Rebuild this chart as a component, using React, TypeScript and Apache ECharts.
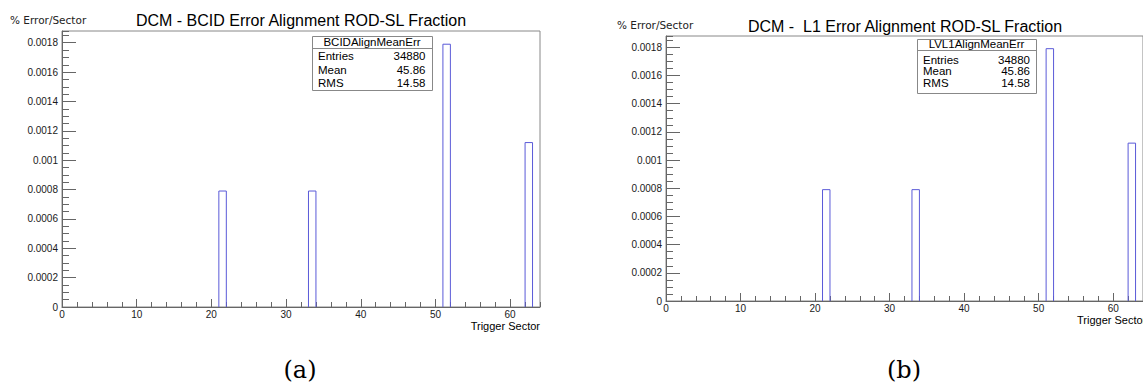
import React, { useEffect, useRef } from "react";
import * as echarts from "echarts";

// ---- data ----
const binLow = [21, 33, 51, 62];
const binWidth = 1;
const fractionBCID = [0.00079, 0.00079, 0.00179, 0.00112];
const fractionL1 = [0.00079, 0.00079, 0.00179, 0.00112];
const xMin = 0;
const xMax = 64;
const yMin = 0;
const yMax = 0.00188;
const xMajor = 10;
const xMinor = 2;
const yMajor = 0.0002;
const yMinor = 0.00005;
const titles = ["DCM - BCID Error Alignment ROD-SL Fraction", "DCM -  L1 Error Alignment ROD-SL Fraction"];
const yTitle = "% Error/Sector";
const xTitle = "Trigger Sector";
const statNames = ["BCIDAlignMeanErr", "LVL1AlignMeanErr"];
const statLabels = ["Entries", "Mean", "RMS"];
const statValuesBCID = ["34880", "45.86", "14.58"];
const statValuesL1 = ["34880", "45.86", "14.58"];
const captions = ["(a)", "(b)"];

// ---- layout ----
const panels = [
  {
    values: fractionBCID,
    stats: statValuesBCID,
    grid: { left: 62, top: 31, width: 478, height: 276 },
    titleX: 301, titleY: 20,
    yNameX: 10, yNameY: 20,
    box: { x: 312, y: 36, w: 120, h: 54, sep: 48, headY: 41.5, rows: [55.8, 69.5, 83], lx: 318, rx: 425.5 },
    xNameX: 540, xNameY: 325.5,
    capX: 300, capY: 370,
  },
  {
    values: fractionL1,
    stats: statValuesL1,
    grid: { left: 666, top: 36, width: 480, height: 265 },
    titleX: 905, titleY: 26,
    yNameX: 617, yNameY: 25,
    box: { x: 917, y: 39, w: 119, h: 54, sep: 50, headY: 44, rows: [60, 71.3, 82.8], lx: 923, rx: 1030 },
    xNameX: 1077, xNameY: 320,
    capX: 904, capY: 370,
  },
];

const SANS = '"Liberation Sans", Arial, Helvetica, sans-serif';
const BAR = "#5a5ad8";
const AXIS = "#666";
const FRAME = "#888";
const LABEL = "#1a1a1a";

function yFmt(v: number): string {
  const k = Math.round(v / yMajor);
  if (Math.abs(v - k * yMajor) > 1e-9) return "";
  if (k === 0) return "0";
  return (k * yMajor).toFixed(4).replace(/0+$/, "");
}
function xFmt(v: number): string {
  const k = Math.round(v / xMajor);
  if (Math.abs(v - k * xMajor) > 1e-9) return "";
  return String(k * xMajor);
}

export default function App() {
  const ref = useRef<HTMLDivElement>(null);
  useEffect(() => {
    if (!ref.current) return;
    const chart = echarts.init(ref.current, undefined, { renderer: "svg" });

    const grids: any[] = [];
    const xAxes: any[] = [];
    const yAxes: any[] = [];
    const series: any[] = [];
    const graphics: any[] = [];

    panels.forEach((p, i) => {
      grids.push({ ...p.grid, show: true, borderColor: FRAME, borderWidth: 1, backgroundColor: "transparent" });
      xAxes.push({
        gridIndex: i, type: "value", min: xMin, max: xMax, interval: xMajor, position: "bottom",
        axisLine: { show: true, onZero: false, lineStyle: { color: AXIS, width: 1 } },
        axisTick: { show: true, inside: true, length: 8, lineStyle: { color: AXIS } },
        axisLabel: { show: true, formatter: xFmt, fontSize: 10, color: LABEL, margin: 2, fontFamily: SANS, showMaxLabel: false },
        splitLine: { show: false },
      });
      xAxes.push({
        gridIndex: i, type: "value", min: xMin, max: xMax, interval: xMinor, position: "bottom",
        axisLine: { show: false, onZero: false },
        axisTick: { show: true, inside: true, length: 5, lineStyle: { color: AXIS } },
        axisLabel: { show: false },
        splitLine: { show: false },
      });
      yAxes.push({
        gridIndex: i, type: "value", min: yMin, max: yMax, interval: yMajor, position: "left",
        axisLine: { show: true, onZero: false, lineStyle: { color: AXIS, width: 1 } },
        axisTick: { show: true, inside: true, length: 14, lineStyle: { color: AXIS } },
        axisLabel: { show: true, formatter: yFmt, fontSize: 10, color: LABEL, margin: 4, fontFamily: SANS, showMaxLabel: false },
        splitLine: { show: false },
      });
      yAxes.push({
        gridIndex: i, type: "value", min: yMin, max: yMax, interval: yMinor, position: "left",
        axisLine: { show: false, onZero: false },
        axisTick: { show: true, inside: true, length: 7, lineStyle: { color: AXIS } },
        axisLabel: { show: false },
        splitLine: { show: false },
      });

      series.push({
        type: "custom",
        xAxisIndex: i * 2,
        yAxisIndex: i * 2,
        clip: false,
        data: binLow.map((b, k) => [b, b + binWidth, p.values[k]]),
        encode: { x: [0, 1], y: 2 },
        renderItem: (_params: any, api: any) => {
          const lo = api.value(0);
          const hi = api.value(1);
          const v = api.value(2);
          const pts = [api.coord([lo, 0]), api.coord([lo, v]), api.coord([hi, v]), api.coord([hi, 0])];
          return {
            type: "polyline",
            shape: { points: pts },
            style: { stroke: BAR, fill: "none", lineWidth: 1 },
          };
        },
      });

      graphics.push({
        type: "text", x: p.titleX, y: p.titleY,
        style: { text: titles[i], fontSize: 16, fontFamily: SANS, fill: "#000", align: "center", verticalAlign: "middle" },
      });
      graphics.push({
        type: "text", x: p.yNameX, y: p.yNameY,
        style: { text: yTitle, fontSize: 10.5, fontFamily: '"DejaVu Sans", sans-serif', fill: "#222", align: "left", verticalAlign: "middle" },
      });
      graphics.push({
        type: "text", x: p.xNameX, y: p.xNameY,
        style: { text: xTitle, fontSize: 11, fontFamily: SANS, fill: "#000", align: i === 0 ? "right" : "left", verticalAlign: "middle" },
      });
      const b = p.box;
      graphics.push({
        type: "rect", shape: { x: b.x + 0.5, y: b.y + 0.5, width: b.w, height: b.h },
        style: { fill: "#fff", stroke: FRAME, lineWidth: 1 }, z: 10,
      });
      graphics.push({
        type: "line", shape: { x1: b.x + 0.5, y1: b.sep + 0.5, x2: b.x + b.w + 0.5, y2: b.sep + 0.5 },
        style: { stroke: FRAME, lineWidth: 1 }, z: 11,
      });
      graphics.push({
        type: "text", x: b.x + b.w / 2, y: b.headY, z: 12,
        style: { text: statNames[i], fontSize: 11.5, fontFamily: SANS, fill: "#000", align: "center", verticalAlign: "middle" },
      });
      statLabels.forEach((lab, r) => {
        graphics.push({
          type: "text", x: b.lx, y: b.rows[r], z: 12,
          style: { text: lab, fontSize: 11.5, fontFamily: SANS, fill: "#000", align: "left", verticalAlign: "middle" },
        });
        graphics.push({
          type: "text", x: b.rx, y: b.rows[r], z: 12,
          style: { text: p.stats[r], fontSize: 11.5, fontFamily: SANS, fill: "#000", align: "right", verticalAlign: "middle" },
        });
      });
      graphics.push({
        type: "text", x: p.capX, y: p.capY,
        style: { text: captions[i], fontSize: 24, fontFamily: '"DejaVu Serif", serif', fill: "#000", align: "center", verticalAlign: "middle" },
      });
    });

    chart.setOption({
      animation: false,
      backgroundColor: "#fff",
      grid: grids,
      xAxis: xAxes,
      yAxis: yAxes,
      series,
      graphic: graphics,
    });
    return () => chart.dispose();
  }, []);

  return (
    <div
      ref={ref}
      style={{ position: "absolute", left: 0, top: 0, width: 1143, height: 387, background: "#fff" }}
    />
  );
}
